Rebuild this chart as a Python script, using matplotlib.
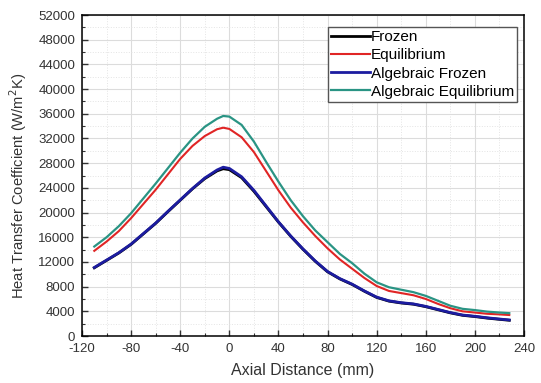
import numpy as np
import matplotlib.pyplot as plt
from matplotlib.ticker import MultipleLocator

plt.rcParams['font.family'] = ['Liberation Sans', 'DejaVu Sans']
plt.rcParams['axes.unicode_minus'] = False

# --------------------------------
# Data: heat transfer coefficient along the nozzle axis
# --------------------------------
axial_mm = [-110, -100, -90, -80, -70, -60, -50, -40, -30, -20, -10, -5, 0,
            10, 20, 30, 40, 50, 60, 70, 80, 90, 100, 110, 120, 130, 140,
            150, 160, 170, 180, 190, 200, 210, 220, 228]

h_frozen = [11050, 12250, 13450, 14850, 16550, 18250, 20150, 22000, 23850,
            25500, 26750, 27100, 26950, 25650, 23450, 20950, 18450, 16150,
            14050, 12100, 10400, 9250, 8350, 7250, 6250, 5650, 5350, 5150,
            4750, 4250, 3750, 3350, 3150, 2900, 2700, 2550]
h_equilibrium = [13800, 15300, 17000, 19100, 21400, 23700, 26200, 28700,
                 30800, 32400, 33500, 33750, 33550, 32200, 29800, 26700,
                 23600, 20800, 18400, 16200, 14200, 12400, 10900, 9400,
                 8100, 7300, 6950, 6600, 6000, 5200, 4500, 4000, 3800,
                 3600, 3500, 3400]
h_alg_frozen = [11100, 12300, 13500, 14900, 16600, 18300, 20200, 22050,
                23900, 25600, 26900, 27350, 27150, 25800, 23600, 21050,
                18500, 16200, 14100, 12150, 10450, 9300, 8400, 7300, 6300,
                5700, 5400, 5200, 4800, 4300, 3800, 3400, 3200, 2950, 2750,
                2600]
h_alg_equilibrium = [14500, 16000, 17800, 19900, 22300, 24700, 27200, 29700,
                     32000, 33900, 35200, 35650, 35550, 34200, 31500, 28200,
                     25000, 22000, 19400, 17100, 15200, 13300, 11800, 10100,
                     8700, 7900, 7500, 7100, 6500, 5700, 4900, 4400, 4200,
                     3950, 3800, 3700]

# --------------------------------
# Plot
# --------------------------------
fig = plt.figure(figsize=(5.41, 3.83), dpi=100)
ax = fig.add_axes([0.1516, 0.1227, 0.817, 0.838])

ax.plot(axial_mm, h_frozen, color='black', lw=2.0, label='Frozen')
ax.plot(axial_mm, h_equilibrium, color='#e02525', lw=1.5, label='Equilibrium')
ax.plot(axial_mm, h_alg_frozen, color='#1c1ca0', lw=2.0, label='Algebraic Frozen')
ax.plot(axial_mm, h_alg_equilibrium, color='#2a9484', lw=1.6,
        label='Algebraic Equilibrium')

ax.set_xlim(-120, 240)
ax.set_ylim(0, 52000)
ax.xaxis.set_major_locator(MultipleLocator(40))
ax.xaxis.set_minor_locator(MultipleLocator(20))
ax.yaxis.set_major_locator(MultipleLocator(4000))
ax.yaxis.set_minor_locator(MultipleLocator(2000))

ax.tick_params(which='both', direction='in', top=False, right=False,
               labelsize=9.5, colors='#333333')
ax.tick_params(which='major', length=4, width=1, pad=5)
ax.tick_params(which='minor', length=2.5, width=0.8)

ax.grid(which='major', color='#dcdcdc', lw=0.8)
ax.grid(which='minor', color='#e4e4e4', lw=0.7, ls=':')
ax.set_axisbelow(True)

for s in ax.spines.values():
    s.set_linewidth(1.1)

ax.set_xlabel('Axial Distance (mm)', fontsize=11.5, color='#333333',
              labelpad=6)
ax.set_ylabel('Heat Transfer Coefficient (W/m$^2$K)', fontsize=10.6,
              color='#333333')
ax.yaxis.set_label_coords(-0.12, 0.467)

leg = ax.legend(loc='upper right', bbox_to_anchor=(0.985, 0.963), fontsize=11,
                handlelength=2.5, handletextpad=0.1, labelspacing=0.28,
                borderpad=0.2, borderaxespad=0, fancybox=False, framealpha=1)
leg.get_frame().set_edgecolor('#555555')
leg.get_frame().set_linewidth(1.0)

fig.savefig('out.png', dpi=100)
